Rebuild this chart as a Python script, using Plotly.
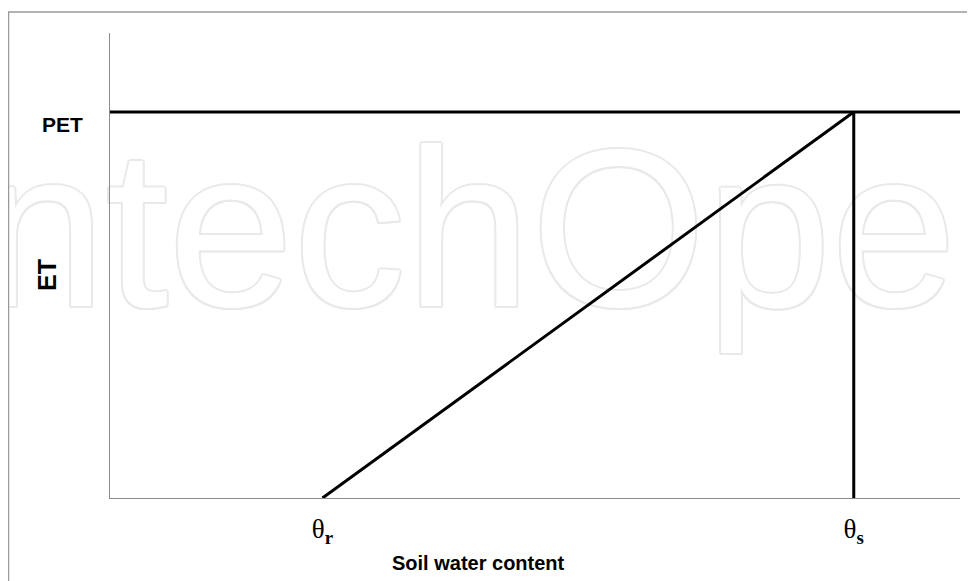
import plotly.graph_objects as go

# Data (normalised units)
theta_r = 0.25
theta_s = 0.875
pet = 0.83
tick_vals = [theta_r, theta_s]
tick_text = ["θ<sub><b>r</b></sub>", "θ<sub><b>s</b></sub>"]
et_x = [theta_r, theta_s]
et_y = [0.0, pet]
pet_x = [0.0, 1.0]
pet_y = [pet, pet]
sat_x = [theta_s, theta_s]
sat_y = [0.0, pet]

fig = go.Figure()
line_style = dict(color="black", width=3)
fig.add_trace(go.Scatter(x=pet_x, y=pet_y, mode="lines", line=line_style, hoverinfo="skip"))
fig.add_trace(go.Scatter(x=et_x, y=et_y, mode="lines", line=line_style, hoverinfo="skip"))
fig.add_trace(go.Scatter(x=sat_x, y=sat_y, mode="lines", line=line_style, hoverinfo="skip"))

oc = "#e9e9e9"
shadow = ", ".join(f"{dx}px {dy}px 0 {oc}" for dx, dy in
                   [(2, 0), (-2, 0), (0, 2), (0, -2), (1.5, 1.5), (-1.5, -1.5), (1.5, -1.5), (-1.5, 1.5)])
wm_font = dict(family="Liberation Sans", size=225, color="white", shadow=shadow)

watermark = dict(type="rect", xref="paper", yref="paper", x0=-0.305, x1=1.222, y0=0.525, y1=0.725,
                 line=dict(width=0), fillcolor="rgba(0,0,0,0)", layer="below",
                 label=dict(text="IntechOpen", font=wm_font, textposition="middle center"))
border = dict(type="rect", xref="paper", yref="paper", x0=-0.1194, x1=1.2, y0=1.045, y1=-0.3,
              line=dict(color="#9a9a9a", width=1.5), fillcolor="rgba(0,0,0,0)", layer="below")

lab_font = "Liberation Sans Narrow, Liberation Sans, sans-serif"

fig.update_layout(
    width=967, height=573,
    margin=dict(l=102, r=15, t=25, b=83),
    paper_bgcolor="white", plot_bgcolor="white",
    showlegend=False,
    xaxis=dict(range=[0, 1], showgrid=False, zeroline=False, showline=True,
               linecolor="#8c8c8c", linewidth=1, tickvals=tick_vals, ticktext=tick_text,
               ticks="", ticklabelstandoff=7,
               tickfont=dict(family="Liberation Serif", size=27, color="black")),
    yaxis=dict(range=[0, 1], showgrid=False, zeroline=False, showline=True,
               linecolor="#8c8c8c", linewidth=1, showticklabels=False, ticks=""),
    shapes=[watermark, border],
    annotations=[
        dict(text="<b>Soil water content</b>", xref="paper", yref="paper", x=0.433, y=-0.14,
             showarrow=False, xanchor="center", yanchor="middle",
             font=dict(family=lab_font, size=20, color="black")),
        dict(text="<b>ET</b>", xref="paper", yref="paper", x=-0.074, y=0.48, textangle=-90,
             showarrow=False, xanchor="center", yanchor="middle",
             font=dict(family=lab_font, size=25, color="black")),
        dict(text="<b>PET</b>", xref="paper", yref="paper", x=-0.056, y=0.804,
             showarrow=False, xanchor="center", yanchor="middle",
             font=dict(family=lab_font, size=21, color="black")),
    ],
)

fig.write_html("out.html")
